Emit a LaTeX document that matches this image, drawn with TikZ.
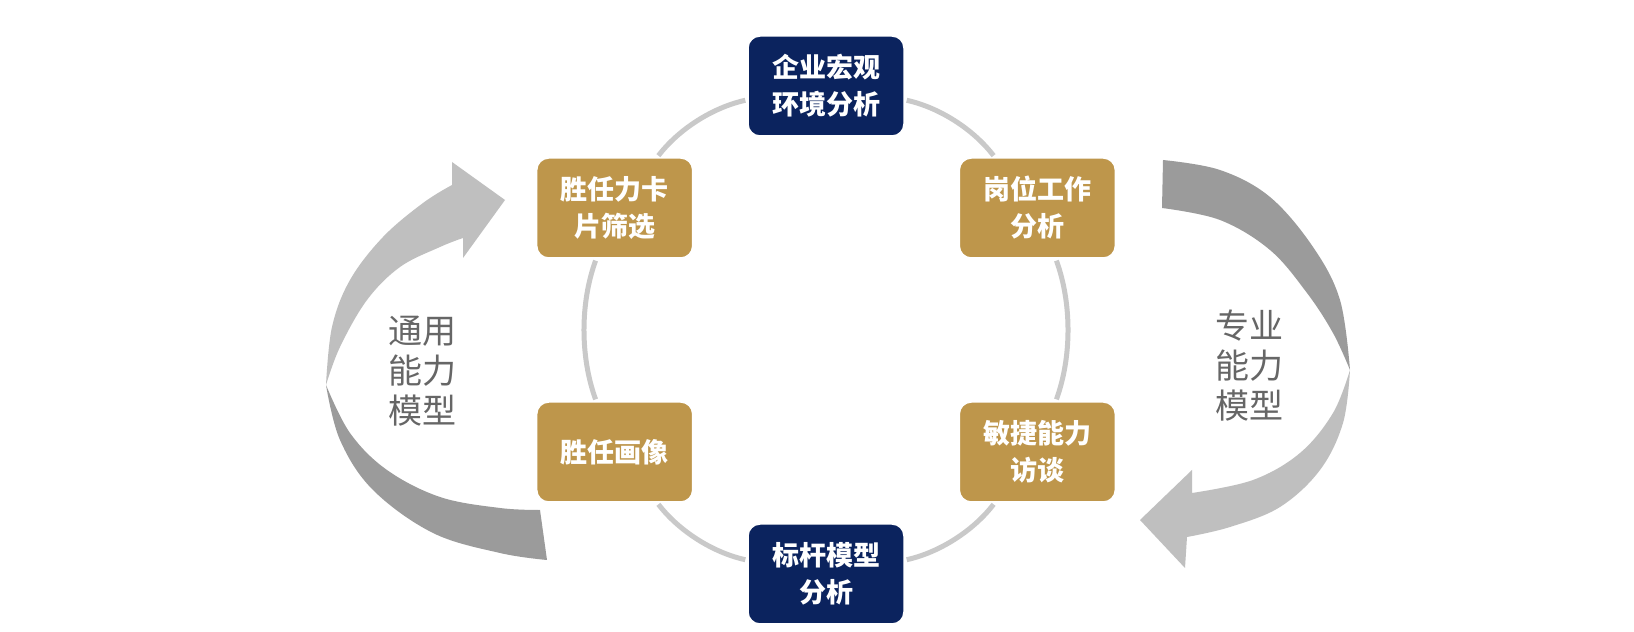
\documentclass[tikz,border=0pt]{standalone}
\usepackage{fontspec}
\newfontfamily\cjk{Noto Sans CJK SC}
\usetikzlibrary{calc}
\definecolor{MacroNavy}{HTML}{0B235E}
\definecolor{StepGold}{HTML}{BE964B}
\definecolor{RingGray}{HTML}{C9C9C9}
\definecolor{ArrowLight}{HTML}{BFBFBF}
\definecolor{ArrowDark}{HTML}{9B9B9B}
\definecolor{LabelGray}{HTML}{666666}

\begin{document}
\begin{tikzpicture}[
    x=1pt,y=1pt,
    font=\cjk,
    box/.style={rounded corners=12pt,minimum width=156pt,minimum height=100pt,
      align=center,text=white,font=\cjk\bfseries\fontsize{27}{37}\selectfont,
      draw=white,line width=1.5pt},
    navy/.style={box,fill=MacroNavy},
    gold/.style={box,fill=StepGold},
    ring/.style={draw=RingGray,line width=5pt,bend left=20,looseness=0.85,
      shorten <=2pt,shorten >=2pt},
    model/.style={text=LabelGray,align=center,font=\cjk\fontsize{34}{40}\selectfont}
  ]
    \useasboundingbox[fill=white] (0,0) rectangle (1634,632);

    % Left loop arrow: light head part, dark tail part.
    \fill[ArrowLight] plot[smooth,tension=0.6] coordinates
      {(326,247) (332,305) (350,352) (383,395) (423,429) (452,447)}
      -- (452,470) -- (505,432) -- (463,374)
      -- plot[smooth,tension=0.6] coordinates
      {(463,394) (440,385) (400,365) (367,332) (340,285) (326,247)} -- cycle;
    \fill[ArrowDark] plot[smooth,tension=0.6] coordinates
      {(326,247) (340,192) (373,142) (433,99) (500,79) (547,72)}
      -- plot[smooth,tension=0.6] coordinates
      {(540,122) (500,124) (440,135) (387,162) (350,199) (326,247)} -- cycle;

    % Right loop arrow.
    \fill[ArrowDark] plot[smooth,tension=0.6] coordinates
      {(1163,472) (1220,462) (1270,435) (1313,385) (1340,332) (1350,262)}
      -- plot[smooth,tension=0.6] coordinates
      {(1350,262) (1333,299) (1307,339) (1270,382) (1220,412) (1162,424)} -- cycle;
    \fill[ArrowLight] plot[smooth,tension=0.6] coordinates
      {(1350,262) (1343,209) (1320,162) (1280,125) (1230,105) (1187,95)}
      -- (1185,64) -- (1140,112) -- (1192,162)
      -- plot[smooth,tension=0.6] coordinates
      {(1192,139) (1253,152) (1300,179) (1333,219) (1350,262)} -- cycle;

    \node[model] (general) at (422,261) {通用\\能力\\模型};
    \node[model] (special) at (1249,266) {专业\\能力\\模型};

    % Six steps on the ring.
    \coordinate (hub) at (826,302);
    \node[navy] (macro) at ($(hub)+(90:244)$) {企业宏观\\环境分析};
    \node[gold] (post) at ($(hub)+(30:244)$) {岗位工作\\分析};
    \node[gold] (agile) at ($(hub)+(-30:244)$) {敏捷能力\\访谈};
    \node[navy] (bench) at ($(hub)+(-90:244)$) {标杆模型\\分析};
    \node[gold] (portrait) at ($(hub)+(210:244)$) {胜任画像};
    \node[gold] (card) at ($(hub)+(150:244)$) {胜任力卡\\片筛选};

    \foreach \a/\b in {macro/post,post/agile,agile/bench,bench/portrait,
      portrait/card,card/macro}
      \draw[ring] (\a) to (\b);
  \end{tikzpicture}
\end{document}
